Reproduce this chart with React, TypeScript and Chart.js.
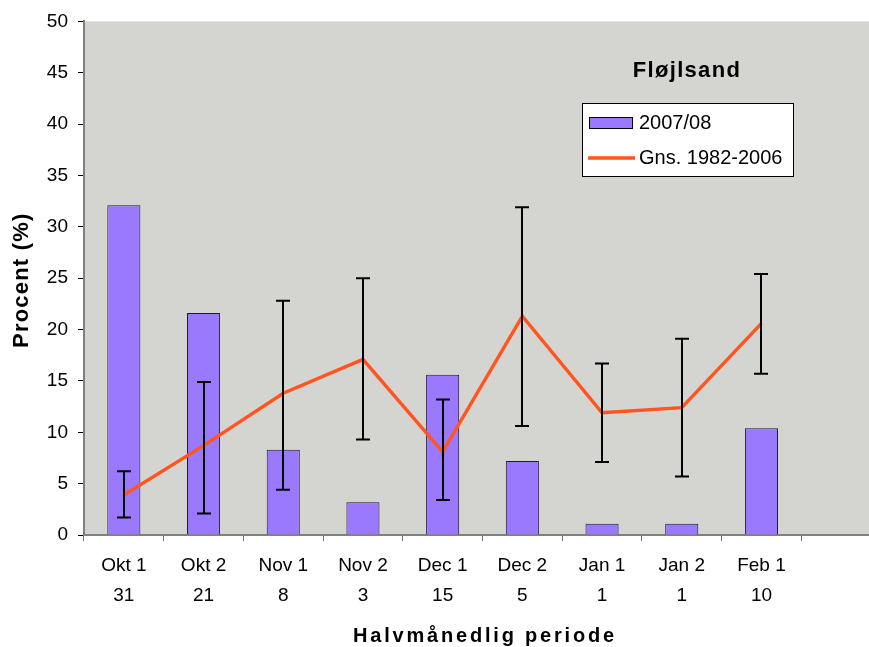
import React, { useEffect, useRef } from "react";
import { Chart, registerables } from "chart.js";

Chart.register(...registerables);

const categories = ["Okt 1", "Okt 2", "Nov 1", "Nov 2", "Dec 1", "Dec 2", "Jan 1", "Jan 2", "Feb 1", ""];
const counts = ["31", "21", "8", "3", "15", "5", "1", "1", "10", ""];
const season2007: (number | null)[] = [32.1, 21.6, 8.3, 3.2, 15.6, 7.2, 1.1, 1.1, 10.4, null];
const average1982: (number | null)[] = [3.9, 8.7, 13.8, 17.1, 8.1, 21.3, 11.9, 12.4, 20.6, null];
const errLow: (number | null)[] = [1.7, 2.1, 4.4, 9.3, 3.4, 10.6, 7.1, 5.7, 15.7, null];
const errHigh: (number | null)[] = [6.2, 14.9, 22.8, 25.0, 13.2, 31.9, 16.7, 19.1, 25.4, null];

const chartTitle = "Fløjlsand";
const yTitle = "Procent (%)";
const xTitle = "Halvmånedlig periode";
const barLabel = "2007/08";
const lineLabel = "Gns. 1982-2006";

const FONT = "'Liberation Sans', Arial, Helvetica, sans-serif";
const BAR_COLOR = "#9b79ff";
const LINE_COLOR = "#ff5520";
const PLOT_BG = "#d4d5d0";

const bgPlugin = {
  id: "plotBg",
  beforeDraw(chart: any) {
    const { ctx, chartArea } = chart;
    ctx.save();
    ctx.fillStyle = PLOT_BG;
    ctx.fillRect(chartArea.left, chartArea.top, chartArea.right - chartArea.left, chartArea.bottom - chartArea.top);
    ctx.restore();
  },
};

const errorBarPlugin = {
  id: "errorBars",
  afterDatasetsDraw(chart: any) {
    const { ctx, scales } = chart;
    const xs = scales.x;
    const ys = scales.y;
    ctx.save();
    ctx.strokeStyle = "#000";
    ctx.lineWidth = 2;
    for (let i = 0; i < categories.length; i++) {
      const lo = errLow[i];
      const hi = errHigh[i];
      if (lo == null || hi == null) continue;
      const x = Math.round(xs.getPixelForValue(i));
      const y1 = ys.getPixelForValue(lo);
      const y2 = ys.getPixelForValue(hi);
      ctx.beginPath();
      ctx.moveTo(x, y1);
      ctx.lineTo(x, y2);
      ctx.moveTo(x - 7, y1);
      ctx.lineTo(x + 7, y1);
      ctx.moveTo(x - 7, y2);
      ctx.lineTo(x + 7, y2);
      ctx.stroke();
    }
    ctx.restore();
  },
};

const textPlugin = {
  id: "texts",
  afterDraw(chart: any) {
    const { ctx, chartArea } = chart;
    ctx.save();
    // Chart title
    ctx.fillStyle = "#000";
    ctx.textAlign = "center";
    ctx.textBaseline = "middle";
    ctx.font = `bold 22px ${FONT}`;
    (ctx as any).letterSpacing = "1.3px";
    ctx.fillText(chartTitle, 687, 71);

    // Legend
    (ctx as any).letterSpacing = "0px";
    ctx.fillStyle = "#fff";
    ctx.fillRect(582.5, 103.5, 211, 73);
    ctx.strokeStyle = "#000";
    ctx.lineWidth = 1;
    ctx.strokeRect(582.5, 103.5, 211, 73);
    ctx.fillStyle = BAR_COLOR;
    ctx.fillRect(589.5, 117.5, 43, 11);
    ctx.strokeRect(589.5, 117.5, 43, 11);
    ctx.strokeStyle = LINE_COLOR;
    ctx.lineWidth = 3.5;
    ctx.beginPath();
    ctx.moveTo(588, 158);
    ctx.lineTo(635, 158);
    ctx.stroke();
    ctx.fillStyle = "#000";
    ctx.textAlign = "left";
    ctx.font = `20px ${FONT}`;
    ctx.fillText(chart.data.datasets[0].label, 639, 123);
    ctx.fillText(chart.data.datasets[1].label, 639, 158);

    // Y title
    ctx.save();
    ctx.translate(22, (chartArea.top + chartArea.bottom) / 2 + 2);
    ctx.rotate(-Math.PI / 2);
    ctx.textAlign = "center";
    ctx.font = `bold 22px ${FONT}`;
    (ctx as any).letterSpacing = "1.2px";
    ctx.fillText(yTitle, 0, 0);
    ctx.restore();

    // X title
    ctx.textAlign = "center";
    ctx.font = `bold 20px ${FONT}`;
    (ctx as any).letterSpacing = "2.8px";
    ctx.fillText(xTitle, 485, 636);
    ctx.restore();
  },
};

export default function App() {
  const ref = useRef<HTMLCanvasElement | null>(null);

  useEffect(() => {
    if (!ref.current) return;
    const labels = categories.map((c, i) => [c, counts[i]]);
    const chart = new Chart(ref.current, {
      type: "bar",
      data: {
        labels,
        datasets: [
          {
            type: "bar",
            label: barLabel,
            data: season2007,
            backgroundColor: BAR_COLOR,
            borderColor: "#1a1a2e",
            borderWidth: 1,
            borderSkipped: "bottom",
            barPercentage: 0.415,
            categoryPercentage: 1,
            order: 2,
          },
          {
            type: "line",
            label: lineLabel,
            data: average1982,
            borderColor: LINE_COLOR,
            backgroundColor: LINE_COLOR,
            borderWidth: 3.5,
            pointRadius: 0,
            tension: 0,
            fill: false,
            order: 1,
          },
        ] as any,
      },
      options: {
        responsive: false,
        animation: false,
        devicePixelRatio: 1,
        layout: { padding: { top: 21, right: 9, left: 0, bottom: 0 } },
        plugins: {
          legend: { display: false },
          tooltip: { enabled: false },
          title: { display: false },
        },
        scales: {
          x: {
            type: "category",
            offset: true,
            grid: {
              offset: true,
              drawOnChartArea: false,
              drawTicks: true,
              tickLength: 6,
              color: "#707070",
              lineWidth: 1,
            },
            border: { color: "#808080", width: 2 },
            ticks: {
              color: "#000",
              padding: 10,
              maxRotation: 0,
              autoSkip: false,
              font: { family: FONT, size: 19, lineHeight: 30 / 19 },
            },
            afterFit: (s: any) => {
              s.height = 112;
            },
          },
          y: {
            min: 0,
            max: 50,
            grid: {
              drawOnChartArea: false,
              drawTicks: true,
              tickLength: 6,
              color: "#000",
              lineWidth: 1,
            },
            border: { color: "#808080", width: 2 },
            ticks: {
              stepSize: 5,
              color: "#000",
              padding: 10,
              font: { family: FONT, size: 19 },
            },
            afterFit: (s: any) => {
              s.width = 84;
            },
          },
        },
      },
      plugins: [bgPlugin, errorBarPlugin, textPlugin],
    });
    return () => chart.destroy();
  }, []);

  return (
    <div
      style={{
        position: "fixed",
        left: 0,
        top: 0,
        width: 869,
        height: 647,
        overflow: "hidden",
        background: "#fff",
      }}
    >
      <canvas ref={ref} width={890} height={647} style={{ display: "block" }} />
    </div>
  );
}
